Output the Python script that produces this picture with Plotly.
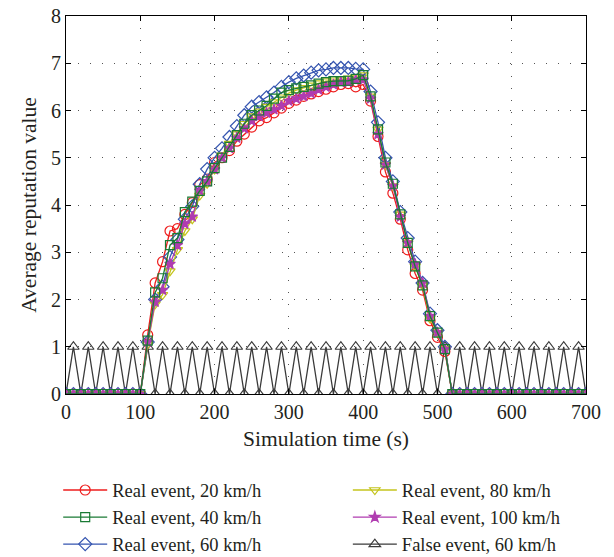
import plotly.graph_objects as go

time_s = [0, 10, 20, 30, 40, 50, 60, 70, 80, 90, 100,
          110, 120, 130, 140, 150, 160, 170, 180, 190, 200,
          210, 220, 230, 240, 250, 260, 270, 280, 290, 300,
          310, 320, 330, 340, 350, 360, 370, 380, 390, 400,
          410, 420, 430, 440, 450, 460, 470, 480, 490, 500,
          510, 520, 530, 540, 550, 560, 570, 580, 590, 600,
          610, 620, 630, 640, 650, 660, 670, 680, 690, 700]

real_20 = [0, 0, 0, 0, 0, 0, 0, 0, 0, 0, 0,
           1.25, 2.35, 2.8, 3.45, 3.5, 3.8, 4.05, 4.43, 4.55, 4.9,
           5.0, 5.15, 5.35, 5.5, 5.65, 5.78, 5.85, 5.95, 6.05, 6.15,
           6.22, 6.3, 6.35, 6.4, 6.45, 6.5, 6.55, 6.57, 6.5, 6.55,
           6.2, 5.45, 4.7, 4.25, 3.7, 3.05, 2.55, 2.2, 1.55, 1.2,
           0.9, 0, 0, 0, 0, 0, 0, 0, 0, 0,
           0, 0, 0, 0, 0, 0, 0, 0, 0, 0]

real_40 = [0, 0, 0, 0, 0, 0, 0, 0, 0, 0, 0,
           1.13, 2.15, 2.45, 3.15, 3.3, 3.85, 4.07, 4.3, 4.5, 4.78,
           5.0, 5.23, 5.48, 5.72, 5.9, 6.0, 6.1, 6.25, 6.38, 6.43,
           6.47, 6.5, 6.53, 6.57, 6.6, 6.62, 6.62, 6.63, 6.67, 6.75,
           6.3, 5.6, 4.9, 4.45, 3.8, 3.2, 2.7, 2.3, 1.65, 1.3,
           0.95, 0, 0, 0, 0, 0, 0, 0, 0, 0,
           0, 0, 0, 0, 0, 0, 0, 0, 0, 0]

real_60 = [0, 0, 0, 0, 0, 0, 0, 0, 0, 0, 0,
           1.1, 2.0, 2.27, 2.9, 3.27, 3.7, 3.97, 4.44, 4.76, 5.0,
           5.2, 5.44, 5.67, 5.9, 6.08, 6.18, 6.28, 6.38, 6.5, 6.6,
           6.68, 6.74, 6.8, 6.85, 6.87, 6.9, 6.9, 6.9, 6.88, 6.87,
           6.4, 5.75, 5.0, 4.5, 3.85, 3.3, 2.8, 2.35, 1.7, 1.35,
           1.0, 0, 0, 0, 0, 0, 0, 0, 0, 0,
           0, 0, 0, 0, 0, 0, 0, 0, 0, 0]

real_80 = [0, 0, 0, 0, 0, 0, 0, 0, 0, 0, 0,
           1.05, 1.9, 2.1, 2.6, 3.05, 3.45, 3.7, 4.2, 4.45, 4.75,
           5.05, 5.3, 5.5, 5.72, 5.88, 5.98, 6.08, 6.18, 6.28, 6.37,
           6.43, 6.48, 6.53, 6.58, 6.62, 6.64, 6.66, 6.68, 6.7, 6.75,
           6.3, 5.6, 4.85, 4.4, 3.8, 3.2, 2.7, 2.3, 1.6, 1.3,
           0.95, 0, 0, 0, 0, 0, 0, 0, 0, 0,
           0, 0, 0, 0, 0, 0, 0, 0, 0, 0]

real_100 = [0, 0, 0, 0, 0, 0, 0, 0, 0, 0, 0,
            1.1, 1.95, 2.2, 2.75, 3.15, 3.6, 3.75, 4.3, 4.5, 4.75,
            5.0, 5.2, 5.42, 5.62, 5.78, 5.88, 5.95, 6.02, 6.1, 6.2,
            6.25, 6.3, 6.36, 6.44, 6.5, 6.55, 6.6, 6.6, 6.65, 6.65,
            6.25, 5.5, 4.85, 4.4, 3.75, 3.2, 2.75, 2.35, 1.65, 1.3,
            0.95, 0, 0, 0, 0, 0, 0, 0, 0, 0,
            0, 0, 0, 0, 0, 0, 0, 0, 0, 0]

false_60 = [0, 1, 0, 1, 0, 1, 0, 1, 0, 1, 0,
            1, 0, 1, 0, 1, 0, 1, 0, 1, 0,
            1, 0, 1, 0, 1, 0, 1, 0, 1, 0,
            1, 0, 1, 0, 1, 0, 1, 0, 1, 0,
            1, 0, 1, 0, 1, 0, 1, 0, 1, 0,
            1, 0, 1, 0, 1, 0, 1, 0, 1, 0,
            1, 0, 1, 0, 1, 0, 1, 0, 1, 0]

x_ticks = [0, 100, 200, 300, 400, 500, 600, 700]
y_ticks = [0, 1, 2, 3, 4, 5, 6, 7, 8]

FONT = "Liberation Serif"
TXT = "#231f20"
FS = 20
FT = 21.5
FL = 18.5

series = [
    # name, values, color, symbol, size, legend, rank
    ("False event, 60 km/h", false_60, "#3a3a3a", "triangle-up-open", 10, "legend2", 3),
    ("Real event, 20 km/h", real_20, "#ee1c1c", "circle-open", 10, "legend", 1),
    ("Real event, 60 km/h", real_60, "#3555b0", "diamond-open", 10, "legend", 3),
    ("Real event, 80 km/h", real_80, "#c4c41c", "triangle-down-open", 9, "legend2", 1),
    ("Real event, 100 km/h", real_100, "#b03cb0", "star", 8, "legend2", 2),
    ("Real event, 40 km/h", real_40, "#1a7a34", "square-open", 9, "legend", 2),
]

fig = go.Figure()
for name, vals, color, symbol, size, leg, rank in series:
    fig.add_trace(go.Scatter(
        x=time_s, y=vals, name=name, mode="lines+markers",
        line=dict(color=color, width=1.3),
        marker=dict(symbol=symbol, size=size, color=color,
                    line=dict(color=color, width=1.2)),
        legend=leg, legendrank=rank, legendgroup=name,
    ))

axis_common = dict(
    showline=True, linecolor="black", linewidth=1.2, mirror="ticks",
    ticks="inside", ticklen=5, tickcolor="black",
    showgrid=True, gridcolor="#555555", gridwidth=1, griddash="1px,11px",
    zeroline=False, tickfont=dict(family=FONT, size=FS, color=TXT),
    automargin=False, ticklabeloverflow="allow",
)

fig.update_xaxes(range=[0, 700], tickvals=x_ticks,
                 title=dict(text="Simulation time (s)", font=dict(family=FONT, size=FT, color=TXT), standoff=8),
                 **axis_common)
fig.update_yaxes(range=[0, 8], tickvals=y_ticks,
                 title=dict(text="Average reputation value", font=dict(family=FONT, size=FT, color=TXT), standoff=8),
                 **axis_common)

leg_common = dict(
    orientation="v", yanchor="top", xanchor="left", y=-0.205,
    font=dict(family=FONT, size=FL, color=TXT),
    bgcolor="rgba(0,0,0,0)", tracegroupgap=0, itemwidth=44,
)

fig.update_layout(
    width=614, height=557,
    margin=dict(l=66, r=28, t=16, b=163, autoexpand=False),
    paper_bgcolor="white", plot_bgcolor="white",
    showlegend=True,
    legend=dict(x=-0.015, **leg_common),
    legend2=dict(x=0.542, **leg_common),
)

fig.write_html("out.html",
               config={"displayModeBar": False},
               post_script="document.body.style.margin='0';document.body.style.overflow='hidden';")
